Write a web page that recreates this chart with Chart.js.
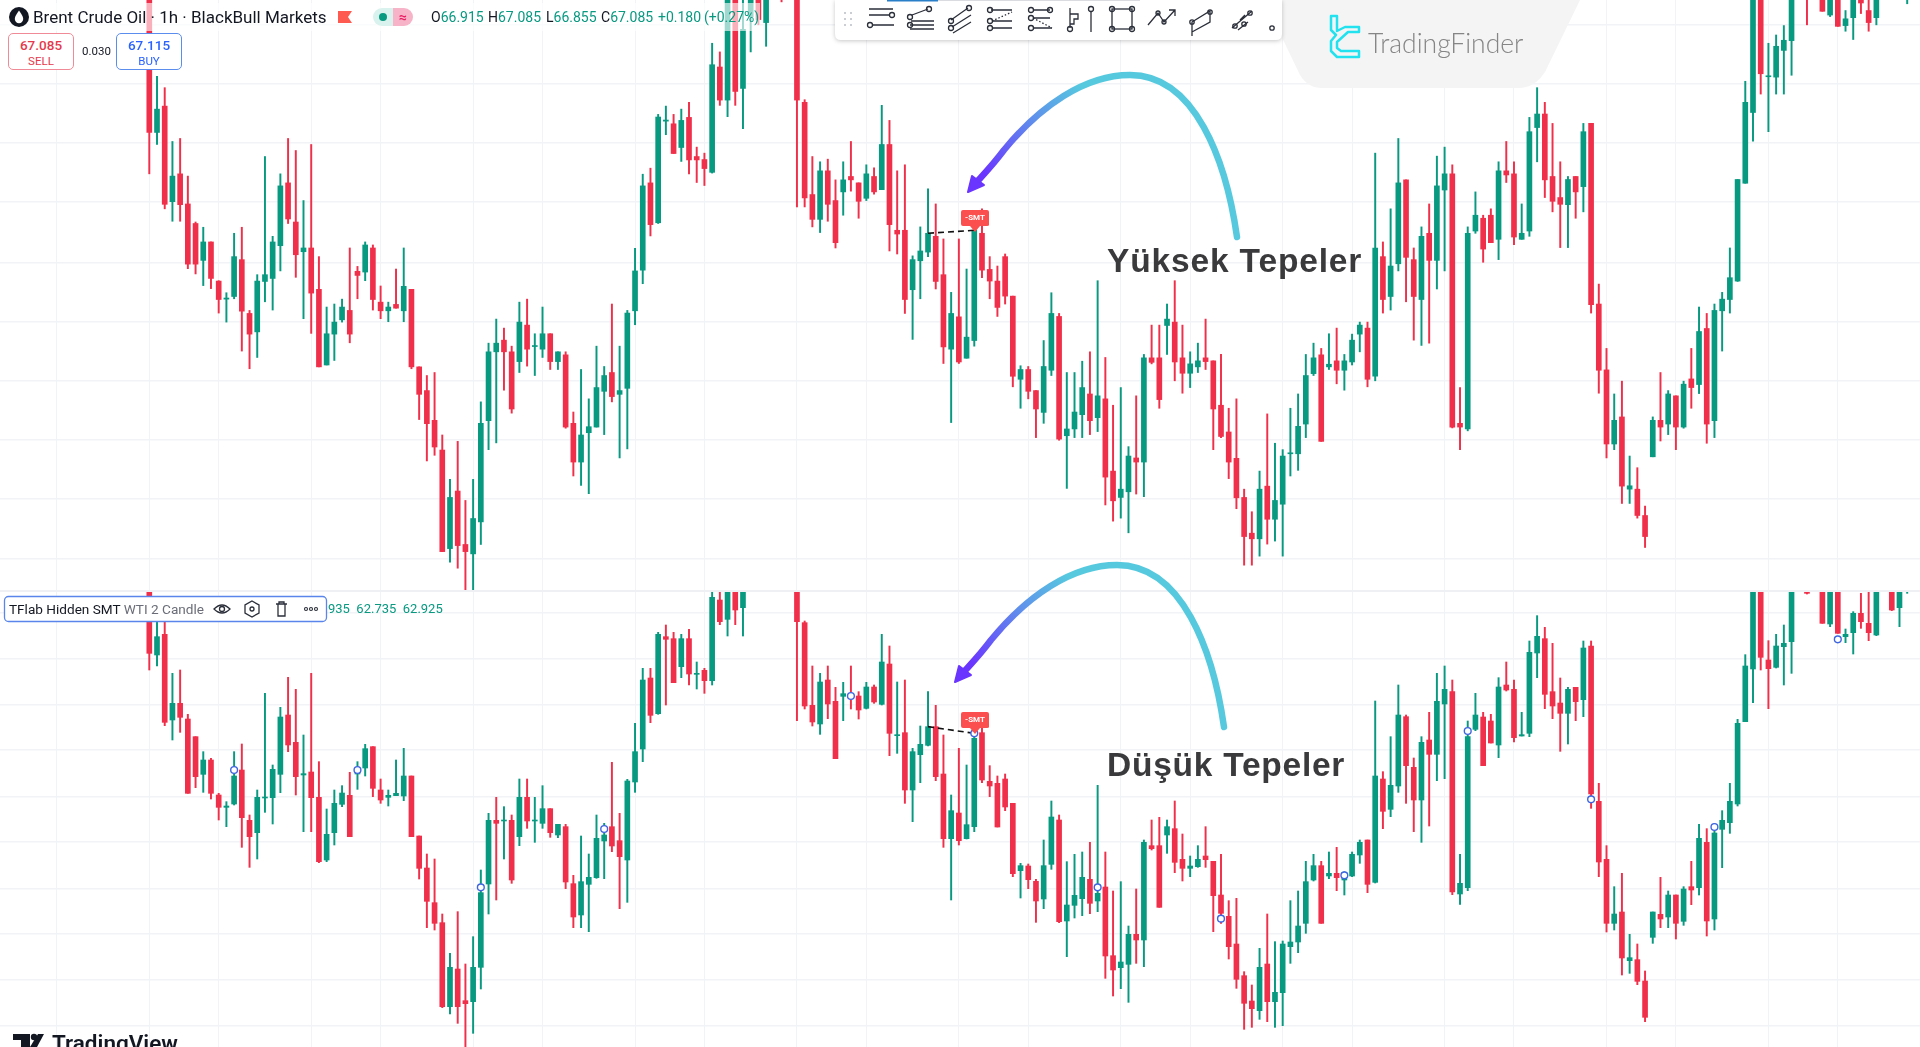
<!DOCTYPE html>
<html><head><meta charset="utf-8">
<script src="https://cdn.jsdelivr.net/npm/chart.js@4"></script>
<style>
html,body{margin:0;padding:0;background:#fff;width:1920px;height:1047px;overflow:hidden}
canvas{position:absolute;left:0}
.t{position:absolute;white-space:nowrap;font-family:Roboto,sans-serif}
.g{color:#089981}
.o{position:absolute;top:9px;font:14px Roboto,sans-serif;color:#089981;white-space:nowrap}
.o b{font-weight:400;color:#131722}
</style></head><body>
<canvas id="topChart" width="1920" height="590" style="top:0"></canvas>
<canvas id="botChart" width="1920" height="457" style="top:590px"></canvas>
<div style="position:absolute;left:0;top:590px;width:1920px;height:2px;background:#eef0f3"></div>

<div style="position:absolute;left:0;top:3px;width:760px;height:28px;background:rgba(255,255,255,.62)"></div>
<svg style="position:absolute;left:9px;top:7px" width="22" height="22"><circle cx="10" cy="10" r="10" fill="#131722"/><path d="M10 3.500C7.500 7 5.800 9.500 5.800 12a4.200 4.200 0 0 0 8.400 0C14.200 9.500 12.500 7 10 3.500Z" fill="#fff"/></svg>
<div class="t" style="left:33px;top:7px;font-size:17px;color:#131722">Brent Crude Oil · 1h · BlackBull Markets</div>
<svg style="position:absolute;left:338px;top:11px" width="16" height="14"><path d="M0 0H14L10 6L14 12H0Z" fill="#ff5a4f"/></svg>
<div style="position:absolute;left:373px;top:8px;width:20px;height:18px;background:#d9f2ed;border-radius:9px 0 0 9px"></div>
<div style="position:absolute;left:393px;top:8px;width:20px;height:18px;background:#f7b4c9;border-radius:0 9px 9px 0;color:#e91e63;font:bold 14px/18px Roboto;text-align:center">≈</div>
<div style="position:absolute;left:379px;top:13px;width:8px;height:8px;border-radius:50%;background:#089981"></div>
<div class="o" style="left:431px"><b>O</b>66.915</div>
<div class="o" style="left:488px"><b>H</b>67.085</div>
<div class="o" style="left:546px"><b>L</b>66.855</div>
<div class="o" style="left:601px"><b>C</b>67.085</div>
<div class="o" style="left:658px">+0.180</div>
<div class="o" style="left:704px">(+0.27%)</div>

<div class="t" style="left:8px;top:33px;width:64px;height:35px;background:#fff;border:1.500px solid #f08a96;border-radius:5px;text-align:center;color:#e5394b"><div style="font:500 13.500px/19px Roboto;margin-top:2px">67.085</div><div style="font:11.500px/13px Roboto">SELL</div></div>
<div class="t" style="left:82px;top:44px;font-size:11.500px;color:#131722">0.030</div>
<div class="t" style="left:116px;top:33px;width:64px;height:35px;background:#fff;border:1.500px solid #5b8def;border-radius:5px;text-align:center;color:#2962ff"><div style="font:500 13.500px/19px Roboto;margin-top:2px">67.115</div><div style="font:11.500px/13px Roboto">BUY</div></div>

<svg style="position:absolute;left:0;top:0" width="1920" height="1047">
<defs>
<linearGradient id="arc" gradientUnits="userSpaceOnUse" x1="1085" y1="90" x2="985" y2="175"><stop offset="0" stop-color="#56c9df"/><stop offset=".45" stop-color="#5f8fec"/><stop offset="1" stop-color="#6a35ff"/></linearGradient>
<g id="arrow"><path d="M1237 237C1226 160 1195 75 1130 75C1085 75 1040 106 1004 150C992 166 982 176 975 184" fill="none" stroke="url(#arc)" stroke-width="6.500" stroke-linecap="round"/><path d="M968 192L972 176L984 185Z" fill="#6a35ff" stroke="#6a35ff" stroke-width="2" stroke-linejoin="round"/></g>
</defs>
<path d="M1264 0L1580 0L1545 72Q1535 88 1518 88L1322 88Q1308 88 1300 75Z" fill="#f4f4f4"/>
<use href="#arrow"/>
<use href="#arrow" transform="translate(-13 490)"/>
<path d="M835 0H1282V34Q1282 40 1276 40H841Q835 40 835 34Z" fill="#fff" style="filter:drop-shadow(0 1px 2px rgba(0,0,0,.22))"/>
<rect x="887" y="0" width="51" height="1.500" fill="#2a7fc9"/><rect x="938" y="0" width="202" height="1" fill="#d9dbe0"/>
<g fill="#b9bcc4"><circle cx="845" cy="13" r="1"/><circle cx="851" cy="13" r="1"/><circle cx="845" cy="19" r="1"/><circle cx="851" cy="19" r="1"/><circle cx="845" cy="25" r="1"/><circle cx="851" cy="25" r="1"/></g>
<g fill="none" stroke="#2a2e39" stroke-width="1.300">
<path d="M869 9H893M869 15H889M873 25H894"/><circle cx="892" cy="15" r="2.500"/><circle cx="870" cy="25" r="2.500"/>
<path d="M912 15L928 9M910 25H934M910 29H934M911 21H934"/><circle cx="910" cy="17" r="2.500"/><circle cx="929" cy="9" r="2.500"/><circle cx="910" cy="25" r="2.500"/>
<path d="M951 20L968 8M952 27L971 15M953 33L971 22"/><circle cx="951" cy="21" r="2.500"/><circle cx="969" cy="8" r="2.500"/><circle cx="951" cy="28" r="2.500"/>
<path d="M991 10H1012M992 21H1012M992 28H1012"/><path d="M992 21L1012 12" stroke-dasharray="1.500 2"/><circle cx="990" cy="10" r="2.500"/><circle cx="990" cy="21" r="2.500"/><circle cx="990" cy="28" r="2.500"/>
<path d="M1033 10H1050M1033 18H1050M1033 28H1052"/><path d="M1033 18L1052 28" stroke-dasharray="1.500 2"/><circle cx="1031" cy="10" r="2.500"/><circle cx="1031" cy="18" r="2.500"/><circle cx="1031" cy="28" r="2.500"/><circle cx="1050" cy="10" r="2.500"/>
<path d="M1070 8V28M1070 14H1078V19H1074V24H1070M1091 11V32"/><circle cx="1070" cy="29" r="2.500"/><circle cx="1091" cy="9" r="2.500"/>
<rect x="1112" y="9" width="20" height="20"/><circle cx="1112" cy="9" r="2.500"/><circle cx="1132" cy="9" r="2.500"/><circle cx="1112" cy="29" r="2.500"/><circle cx="1132" cy="29" r="2.500"/>
<path d="M1148 25L1158 13L1164 22L1175 10M1169 10H1175V16"/><circle cx="1158" cy="13" r="2"/><circle cx="1164" cy="22" r="2"/>
<path d="M1192 22L1210 11V22L1192 32ZM1192 32V36"/><circle cx="1192" cy="22" r="2.200"/><circle cx="1210" cy="12" r="2.200"/>
<path d="M1232 28L1252 11M1238 30L1248 22M1240 20L1245 15"/><circle cx="1235" cy="26" r="2.200"/><circle cx="1250" cy="13" r="2.200"/><circle cx="1244" cy="24" r="2.200"/>
<circle cx="1272" cy="28" r="2.200"/>
</g>
<path d="M1331 16H1337V31L1345 27H1359V32H1348L1337 42V48L1341 51H1359V57H1337L1331 51V41L1336 35L1331 30Z" fill="none" stroke="#22e2ef" stroke-width="2.500" stroke-linejoin="round"/>
<path d="M13 1034H30V1047H21V1040H13Z" fill="#131722"/><circle cx="34" cy="1037" r="3.200" fill="#131722"/><path d="M38 1034H44L37 1047H30Z" fill="#131722"/>
<rect x="4.500" y="596.500" width="322" height="25" rx="4" fill="#fff" stroke="#5a86ec" stroke-width="1.300"/>
<g fill="none" stroke="#2a2e39" stroke-width="1.300">
<path d="M214 609Q222 601 230 609Q222 617 214 609Z"/><circle cx="222" cy="609" r="2.500"/>
<path d="M252 601L259 605V613L252 617L245 613V605Z"/><circle cx="252" cy="609" r="2"/>
<path d="M276 604H287M278 604V616H285V604M279 604V602H284V604"/>
</g>
<g fill="none" stroke="#2a2e39" stroke-width="1.100"><circle cx="306" cy="609" r="1.500"/><circle cx="311" cy="609" r="1.500"/><circle cx="316" cy="609" r="1.500"/></g>
</svg>

<div class="t" style="left:1368px;top:27px;font-family:Lato,sans-serif;font-weight:300;font-size:26.500px;color:#858585">TradingFinder</div>
<div class="t" style="left:1107px;top:242px;font:bold 33.500px 'Liberation Sans';color:#3a3a3c;letter-spacing:.85px">Yüksek Tepeler</div>
<div class="t" style="left:1107px;top:746px;font:bold 33.500px 'Liberation Sans';color:#3a3a3c;letter-spacing:.75px">Düşük Tepeler</div>
<svg style="position:absolute;left:961px;top:209px" width="28" height="26"><path d="M2 1H26Q28 1 28 3V16Q28 17 26 17H19L14 23L9 17H2Q0 17 0 15V3Q0 1 2 1Z" fill="#fb4f4f"/></svg>
<div class="t" style="left:961px;top:213px;width:28px;text-align:center;font:bold 8px/10px Roboto;color:#fff">-SMT</div>
<svg style="position:absolute;left:961px;top:711px" width="28" height="26"><path d="M2 1H26Q28 1 28 3V16Q28 17 26 17H19L14 23L9 17H2Q0 17 0 15V3Q0 1 2 1Z" fill="#fb4f4f"/></svg>
<div class="t" style="left:961px;top:715px;width:28px;text-align:center;font:bold 8px/10px Roboto;color:#fff">-SMT</div>
<div class="t" style="left:9px;top:601px;font-size:13.600px;color:#131722">TFlab Hidden SMT <span style="color:#6a6d78">WTI 2 Candle</span></div>
<div class="t g" style="left:328px;top:601px;font-size:13px">935 &nbsp;62.735 &nbsp;62.925</div>
<div class="t" style="left:52px;top:1030px;font:600 22.500px Roboto;color:#131722">TradingView</div>

<script>
const topHigh=[67.35,66.591,66.501,66.072,66.096,65.796,65.43,65.388,65.271,64.962,
64.866,65.34,65.388,64.725,65.01,65.952,65.316,65.814,66.096,66.0,
65.601,66.048,65.154,64.752,64.776,64.815,65.223,65.076,65.271,65.247,
64.92,64.791,65.055,65.223,64.893,64.275,64.206,64.23,63.732,63.378,
63.681,63.21,63.378,63.996,64.464,64.656,64.584,64.44,64.791,64.815,
64.539,64.752,64.539,64.395,64.395,63.915,64.254,64.02,64.44,64.278,
64.776,64.44,64.725,65.22,65.811,65.859,66.288,66.354,66.288,66.33,
66.384,66.027,65.979,66.855,66.786,67.26,67.29,67.23,67.32,67.32,
67.38,67.47,67.44,67.47,67.38,66.405,65.952,65.91,65.931,65.766,
65.91,66.072,65.742,65.886,65.862,66.36,66.24,65.838,65.886,65.16,
65.391,65.694,65.574,65.295,64.869,65.295,65.055,65.364,65.535,65.154,
65.079,65.175,64.839,64.284,64.278,64.086,64.485,64.866,64.701,64.23,
64.23,64.32,64.395,64.962,64.35,63.969,64.11,63.639,64.044,64.374,
64.608,64.608,64.776,64.962,64.608,64.395,64.464,64.656,64.323,64.374,
63.945,64.02,63.3,63.12,63.444,63.9,63.666,63.615,63.945,64.059,
64.374,64.464,64.422,64.539,64.584,64.374,64.536,64.632,64.632,65.979,
65.271,65.535,66.096,65.766,65.223,65.391,65.574,65.955,66.027,65.886,
64.11,65.391,65.67,65.484,65.535,65.91,66.072,65.91,65.574,66.264,
66.501,66.384,66.216,65.91,65.793,65.793,66.216,66.216,64.935,64.422,
64.059,64.161,63.564,63.471,63.165,63.876,64.23,64.086,64.044,64.161,
64.422,64.752,64.701,64.776,64.869,65.223,65.769,66.552,67.32,67.32,
66.855,66.921,66.996,67.32,67.47,67.38,67.47,67.35,67.35,67.35,
67.116,67.35,67.26,67.2,67.35,67.47,67.47,67.47,67.38,67.47];
const topBodyHigh=[67.26,66.33,66.354,65.796,65.814,65.574,65.418,65.271,65.271,64.959,
64.824,65.154,65.13,64.701,64.959,65.01,65.271,65.718,65.742,65.43,
65.223,65.223,64.893,64.539,64.632,64.752,64.725,65.037,65.247,65.223,
64.791,64.752,64.773,64.917,64.893,64.275,64.086,63.849,63.612,63.234,
63.285,62.859,63.066,63.825,64.395,64.464,64.488,64.395,64.632,64.608,
64.443,64.539,64.539,64.395,64.371,63.825,63.732,63.798,64.11,64.206,
64.23,64.086,64.704,65.04,65.718,65.742,66.267,66.243,66.213,66.24,
66.264,65.952,65.928,66.684,66.666,67.23,67.23,66.966,67.26,67.26,
67.29,67.44,67.41,67.44,67.32,66.384,65.649,65.838,65.838,65.601,
65.766,65.793,65.742,65.814,65.793,66.048,66.048,65.364,65.364,65.13,
65.199,65.34,65.316,65.01,64.701,64.674,64.512,65.364,65.34,65.052,
64.959,65.154,64.839,64.254,64.254,64.086,64.278,64.701,64.677,63.78,
63.915,64.11,64.059,64.044,64.02,63.444,63.3,63.564,63.549,64.347,
64.347,64.347,64.656,64.632,64.347,64.299,64.323,64.347,64.323,63.969,
63.756,63.546,63.234,62.949,63.3,63.324,63.21,63.564,63.588,63.801,
64.206,64.347,64.371,64.296,64.323,64.323,64.488,64.608,64.584,65.223,
65.154,65.079,65.742,65.766,65.13,65.316,65.34,65.718,65.814,65.814,
63.825,65.34,65.484,65.46,65.484,65.838,65.838,65.814,65.34,66.15,
66.291,66.291,65.793,65.625,65.769,65.793,66.15,66.216,64.776,64.251,
63.849,63.876,63.327,63.3,63.09,63.849,63.849,64.059,64.044,64.137,
64.179,64.557,64.581,64.725,64.815,64.986,65.769,66.384,67.26,67.26,
66.594,66.831,66.879,67.26,67.44,67.35,67.44,67.26,67.26,67.26,
67.05,67.26,67.2,67.116,67.26,67.44,67.44,67.44,67.35,67.44];
const topBodyLow=[66.144,66.144,65.571,65.592,65.568,65.094,65.094,65.124,64.98,64.812,
64.815,64.836,64.719,64.536,64.554,64.956,64.98,65.241,65.454,65.169,
65.193,64.863,64.275,64.29,64.536,64.65,64.536,65.004,65.031,64.812,
64.722,64.722,64.743,64.722,64.275,64.056,63.822,63.636,62.802,62.826,
62.85,62.802,62.784,63.039,63.846,64.395,64.395,63.939,64.317,64.416,
64.437,64.416,64.317,64.317,63.795,63.516,63.516,63.75,63.795,64.08,
64.038,64.056,64.104,64.722,65.046,65.409,65.424,66.234,65.976,66.024,
65.925,65.925,65.856,65.826,66.402,66.402,66.471,66.495,67.065,67.044,
67.02,67.35,67.29,67.32,66.402,65.622,65.451,65.451,65.571,65.265,
65.67,65.766,65.595,65.619,65.67,65.688,65.409,65.334,64.812,64.89,
65.121,65.19,64.956,64.434,64.416,64.314,64.344,64.485,65.046,64.959,
64.749,64.839,64.2,64.176,64.08,63.939,63.912,64.248,63.699,63.726,
63.78,63.894,63.846,63.87,63.396,63.207,63.234,63.279,63.516,63.516,
64.311,64.014,64.605,64.314,64.224,64.224,64.275,64.317,63.939,63.72,
63.516,63.231,62.922,62.904,62.904,63.06,63.06,63.18,63.582,63.582,
63.819,64.221,63.681,64.275,64.248,64.248,64.314,64.536,64.176,64.2,
64.812,64.836,65.097,65.148,64.836,64.812,65.124,65.124,65.685,63.795,
63.795,63.78,65.358,65.214,65.265,65.292,65.805,65.31,65.292,65.358,
66.183,65.766,65.595,65.571,65.568,65.67,65.712,64.77,64.248,63.66,
63.66,63.324,63.3,63.09,62.922,63.558,63.795,63.819,63.795,63.795,
64.11,64.134,63.819,63.846,64.722,64.812,64.959,65.739,66.303,66.612,
66.588,66.585,66.798,66.876,67.32,67.26,67.32,67.11,67.08,66.99,
66.996,67.059,67.176,67.02,67.059,67.32,67.32,67.32,67.26,67.32];
const topLow=[65.814,66.048,65.535,65.436,65.436,65.058,65.016,64.923,64.899,64.704,
64.632,64.818,64.401,64.26,64.35,64.794,64.728,65.04,65.418,64.989,
64.659,64.542,64.275,64.29,64.326,64.632,64.467,64.818,64.962,64.728,
64.659,64.635,64.743,64.635,64.26,63.855,63.525,63.57,62.802,62.718,
62.67,62.475,62.475,62.859,63.615,63.669,64.089,63.906,64.23,64.281,
64.206,64.35,64.254,64.254,63.786,63.405,63.33,63.264,63.795,63.735,
63.996,63.549,63.621,64.611,64.938,65.319,65.418,66.126,65.976,65.913,
65.814,65.745,65.721,65.82,66.36,66.27,66.36,66.174,66.786,67.002,
66.831,67.29,67.185,67.26,65.55,65.55,65.391,65.346,65.436,65.223,
65.484,65.676,65.46,65.601,65.652,65.688,65.199,65.175,64.701,64.494,
64.818,65.154,64.896,64.302,63.831,64.302,64.344,64.44,64.986,64.818,
64.677,64.776,64.116,63.945,64.02,63.711,63.825,64.206,63.69,63.306,
63.711,63.711,63.735,63.759,63.174,63.045,63.069,62.952,63.261,63.24,
64.299,63.945,64.374,64.164,64.065,64.11,64.23,64.254,63.615,63.711,
63.384,63.144,62.694,62.694,62.766,62.862,62.886,62.766,63.405,63.45,
63.711,64.206,63.681,64.254,64.14,64.089,64.29,64.395,64.116,64.164,
64.704,64.728,65.04,64.794,64.488,64.446,64.464,64.896,65.04,63.789,
63.615,63.765,65.34,65.109,65.265,65.13,65.745,65.25,65.292,65.316,
65.91,65.625,65.511,65.226,65.226,65.46,65.511,64.704,64.065,63.549,
63.615,63.186,63.186,63.069,62.835,63.558,63.684,63.735,63.615,63.786,
63.945,64.062,63.666,63.711,64.401,64.704,64.956,65.739,66.075,66.45,
66.15,66.45,66.45,66.6,67.26,67.002,67.26,67.11,67.068,66.99,
66.951,66.885,67.092,66.951,67.002,67.26,67.26,67.26,67.17,67.26];
const topRising=[0,1,0,1,0,0,0,1,0,0,1,1,0,0,1,1,1,1,0,0,1,0,0,1,1,1,0,0,1,0,0,1,0,1,0,0,0,0,0,1,
0,0,1,1,1,1,0,0,1,0,1,1,0,1,0,0,1,1,1,1,0,1,1,1,1,0,1,1,0,1,0,0,0,1,0,1,0,1,1,0,
1,1,0,0,0,0,0,1,0,0,1,0,0,1,0,1,0,0,0,1,1,1,0,0,1,0,1,1,0,0,0,0,0,1,0,0,1,1,0,1,
1,1,0,1,0,0,1,1,0,1,0,0,1,0,0,1,1,0,0,0,0,0,0,0,1,0,1,1,1,1,1,1,0,1,0,1,1,1,0,1,
0,1,1,0,0,1,0,1,1,0,0,1,1,0,0,1,0,0,1,1,1,0,0,0,1,0,1,0,0,0,1,0,1,0,0,1,0,1,0,1,
0,1,0,1,1,1,1,1,1,0,1,1,1,1,1,0,1,0,1,0,1,1,0,0,1,0,0,1,1,1];

const botHigh=[63.22,62.92,62.92,62.6,62.62,62.354,62.22,62.13,62.09,61.88,
61.83,62.13,62.176,61.75,61.9,62.48,62.05,62.396,62.576,62.504,
62.23,62.6,62.07,61.786,61.9,61.926,62.006,62.07,62.174,62.16,
61.966,61.9,62.08,62.15,61.984,61.624,61.516,61.486,61.156,60.92,
61.17,60.856,61.02,61.42,61.76,61.856,61.8,61.75,61.966,61.966,
61.856,61.926,61.788,61.694,61.694,61.388,61.624,61.516,61.75,61.7,
62.066,61.76,61.964,62.3,62.63,62.63,62.846,62.89,62.846,62.834,
62.864,62.668,62.63,63.09,63.09,63.16,63.16,63.16,63.26,63.26,
63.26,63.26,63.26,63.26,63.22,62.914,62.644,62.6,62.644,62.516,
62.546,62.644,62.49,62.546,62.53,62.834,62.764,62.548,62.56,62.15,
62.284,62.49,62.408,62.23,61.87,62.15,62.05,62.26,62.28,62.046,
61.984,61.996,61.82,61.46,61.456,61.364,61.6,61.834,61.75,61.47,
61.514,61.528,61.586,61.928,61.528,61.294,61.35,61.084,61.306,61.6,
61.72,61.736,61.72,61.834,61.636,61.504,61.566,61.68,61.472,61.514,
61.236,61.25,60.81,60.73,60.95,61.156,60.99,60.994,61.236,61.294,
61.472,61.514,61.472,61.528,61.556,61.41,61.528,61.6,61.6,62.434,
62.01,62.22,62.53,62.35,62.092,62.22,62.366,62.6,62.644,62.56,
61.514,62.314,62.48,62.366,62.354,62.574,62.668,62.56,62.366,62.794,
62.946,62.876,62.78,62.572,62.516,62.516,62.794,62.794,61.94,61.566,
61.32,61.4,61.034,60.976,60.814,61.168,61.376,61.294,61.27,61.32,
61.472,61.694,61.668,61.7,61.776,61.94,62.324,62.712,63.16,63.16,
62.796,62.834,62.89,63.16,63.26,63.14,63.26,63.16,63.16,63.16,
62.866,62.97,63.08,63.09,63.16,63.26,63.16,63.16,63.16,63.26];
const botBodyHigh=[63.16,62.82,62.834,62.42,62.42,62.326,62.22,62.08,62.08,61.87,
61.804,61.984,62.02,61.718,61.856,61.858,62.024,62.338,62.35,62.186,
61.998,62.008,61.856,61.634,61.82,61.882,61.868,62.026,62.148,62.16,
61.9,61.868,61.88,61.984,61.984,61.624,61.432,61.224,61.104,60.836,
60.826,60.636,60.836,61.284,61.718,61.718,61.72,61.718,61.856,61.856,
61.72,61.788,61.788,61.694,61.68,61.338,61.35,61.376,61.61,61.63,
61.68,61.596,61.954,62.13,62.56,62.572,62.834,62.82,62.808,62.808,
62.808,62.6,62.618,63.056,63.04,63.12,63.12,63.12,63.24,63.24,
63.24,63.24,63.24,63.24,63.14,62.904,62.408,62.548,62.56,62.432,
62.478,62.476,62.464,62.518,62.518,62.668,62.656,62.232,62.244,62.13,
62.174,62.28,62.28,61.996,61.776,61.762,61.692,62.21,62.244,61.952,
61.94,61.966,61.82,61.446,61.444,61.352,61.446,61.738,61.72,61.21,
61.268,61.376,61.364,61.28,61.318,60.906,60.868,61.034,61.034,61.586,
61.566,61.566,61.68,61.668,61.484,61.444,61.484,61.504,61.472,61.27,
61.142,60.976,60.786,60.634,60.836,60.856,60.686,60.976,60.988,61.084,
61.35,61.446,61.446,61.4,61.4,61.404,61.514,61.586,61.6,61.984,
61.966,61.928,62.35,62.34,62.036,62.186,62.2,62.432,62.504,62.49,
61.34,62.22,62.35,62.338,62.314,62.518,62.53,62.504,62.232,62.726,
62.822,62.808,62.49,62.422,62.504,62.516,62.752,62.764,61.832,61.484,
61.156,61.168,60.894,60.882,60.754,61.168,61.154,61.27,61.27,61.306,
61.32,61.61,61.586,61.642,61.718,61.832,62.3,62.644,63.12,63.12,
62.68,62.764,62.78,63.12,63.24,63.12,63.24,63.12,63.12,63.12,
62.834,62.96,62.96,62.9,63.12,63.24,63.12,63.12,63.14,63.24];
const botBodyLow=[62.72,62.71,62.306,62.32,62.336,61.88,61.98,61.994,61.88,61.796,
61.796,61.816,61.734,61.62,61.644,61.852,61.854,61.994,62.17,61.98,
61.99,61.854,61.47,61.48,61.644,61.814,61.62,61.996,62.032,61.91,
61.84,61.856,61.866,61.864,61.62,61.43,61.232,61.1,60.6,60.6,
60.6,60.618,60.63,60.836,61.336,61.7,61.714,61.36,61.62,61.714,
61.714,61.7,61.644,61.63,61.348,61.138,61.15,61.334,61.374,61.594,
61.564,61.5,61.48,61.948,62.146,62.348,62.358,62.804,62.544,62.64,
62.596,62.594,62.556,62.556,62.91,62.924,62.98,62.994,63.18,63.18,
63.18,63.18,63.18,63.18,62.91,62.404,62.308,62.296,62.416,62.088,
62.462,62.45,62.38,62.39,62.428,62.414,62.24,62.226,61.9,61.9,
62.112,62.168,61.98,61.608,61.608,61.596,61.608,61.68,61.96,61.924,
61.678,61.798,61.398,61.416,61.362,61.234,61.246,61.454,61.11,61.114,
61.208,61.248,61.22,61.234,60.904,60.82,60.834,60.854,61.0,61.0,
61.548,61.196,61.63,61.466,61.43,61.43,61.44,61.482,61.266,61.16,
60.96,60.764,60.62,60.588,60.576,60.63,60.63,60.684,60.96,60.988,
61.1,61.36,61.1,61.384,61.374,61.36,61.384,61.51,61.334,61.346,
61.772,61.784,61.924,62.046,61.84,61.84,62.114,62.114,62.416,61.288,
61.276,61.314,62.264,62.046,62.182,62.17,62.5,62.214,62.224,62.24,
62.722,62.474,62.404,62.36,62.36,62.43,62.442,61.876,61.468,61.1,
61.1,60.892,60.876,60.752,60.536,61.016,61.126,61.138,61.1,61.112,
61.3,61.314,61.114,61.126,61.664,61.704,61.816,62.31,62.626,62.696,
62.628,62.636,62.76,62.79,63.18,63.08,63.18,62.9,62.896,62.84,
62.82,62.844,62.91,62.844,62.83,63.18,62.98,62.994,63.11,63.18];
const botLow=[62.62,62.644,62.286,62.2,62.246,61.88,61.914,61.886,61.846,61.72,
61.68,61.81,61.556,61.436,61.486,61.766,61.696,61.884,62.13,61.87,
61.65,61.65,61.464,61.47,61.57,61.8,61.62,61.904,61.984,61.86,
61.82,61.804,61.866,61.836,61.62,61.366,61.074,61.06,60.594,60.556,
60.5,60.32,60.44,60.706,61.156,61.24,61.486,61.34,61.566,61.67,
61.586,61.67,61.616,61.614,61.308,61.074,61.074,61.05,61.37,61.368,
61.53,61.188,61.226,61.886,62.07,62.304,62.354,62.41,62.544,62.574,
62.53,62.506,62.48,62.53,62.892,62.824,62.892,62.824,63.14,63.14,
63.14,63.14,63.14,63.14,62.316,62.386,62.284,62.234,62.328,62.088,
62.316,62.386,62.326,62.386,62.42,62.41,62.106,62.12,61.82,61.71,
61.944,62.164,61.956,61.556,61.24,61.57,61.606,61.65,61.944,61.86,
61.678,61.776,61.38,61.252,61.308,61.106,61.188,61.424,61.104,60.9,
61.132,61.146,61.158,61.17,60.77,60.664,60.708,60.626,60.86,60.84,
61.54,61.196,61.52,61.404,61.354,61.38,61.436,61.436,61.05,61.1,
60.886,60.71,60.464,60.476,60.524,60.51,60.476,60.486,60.86,60.924,
61.04,61.354,61.1,61.368,61.296,61.27,61.38,61.46,61.284,61.342,
61.668,61.74,61.886,61.82,61.65,61.586,61.684,61.956,61.968,61.272,
61.214,61.296,62.256,62.046,62.182,62.094,62.494,62.188,62.224,62.22,
62.574,62.388,62.328,62.132,62.176,62.316,62.34,61.79,61.38,61.048,
61.06,60.79,60.8,60.732,60.51,60.98,61.074,61.074,61.006,61.088,
61.212,61.27,61.024,61.06,61.434,61.64,61.804,62.31,62.424,62.62,
62.388,62.632,62.53,62.6,63.14,63.076,63.14,62.9,62.88,62.84,
62.784,62.716,62.87,62.796,62.826,63.14,62.976,62.88,63.08,63.14];
const botRising=[0,1,0,1,0,0,0,1,0,0,1,1,0,0,1,1,1,1,0,0,1,0,0,1,1,1,0,1,1,0,0,1,1,1,0,0,0,0,0,1,
0,0,1,1,1,0,1,0,1,0,1,1,0,1,0,0,1,1,1,1,0,0,1,1,1,0,1,0,0,1,0,1,0,1,0,1,0,1,1,0,
1,1,0,0,0,0,0,1,0,0,1,0,0,1,0,1,0,1,0,1,1,1,0,0,1,0,1,1,0,0,0,0,0,1,0,0,1,1,0,1,
1,1,0,1,0,0,1,1,0,1,0,0,1,0,0,1,1,0,0,0,0,0,0,0,1,0,1,1,1,1,1,1,0,1,0,1,1,1,0,1,
0,1,1,0,0,1,0,1,1,0,1,1,1,0,0,1,0,0,1,1,1,0,0,0,1,0,1,0,0,0,1,0,1,0,0,1,0,1,0,1,
0,1,0,1,1,1,1,1,1,0,0,1,1,1,1,0,1,0,1,0,1,1,0,0,1,0,0,1,1,1];

const topGridPrices=[67.005,66.534,66.06,65.589,65.109,64.635,64.164,63.696,63.225,62.745];
const botGridPrices=[62.964,62.686,62.414,62.14,61.86,61.59,61.31,61.04,60.76,60.488];
const gridBars=[-12,0,9,21,30,42,51,63,72,84,93,105,114,126,135,147,156,168,177,189,198,210,219];
const topSmtBars=[101,107], topSmtPrices=[65.34,65.364];
const botSmtBars=[101,107], botSmtPrices=[62.28,62.24];
const markerBars=[11,27,43,59,91,107,123,139,155,171,187,203,219];
const markerPrices=[62.02,62.02,61.316,61.666,62.464,62.24,61.316,61.128,61.388,62.254,61.844,61.678,62.804];

const UP='#089981', DOWN='#f0304a', GRID='#f2f3f6';
function candleChart(id,high,bHigh,bLow,low,rising,yMin,yMax,gridPrices,smtBars,smtPrices,mBars,mPrices){
  const colors=rising.map(r=>r?UP:DOWN);
  const datasets=[
    {type:'bar',order:3,grouped:false,barThickness:1.3,borderWidth:0,backgroundColor:colors,
     data:high.map((h,i)=>({x:i,y:[low[i],h]}))},
    {type:'bar',order:2,grouped:false,barThickness:5,minBarLength:1,borderWidth:0,backgroundColor:colors,
     data:bHigh.map((h,i)=>({x:i,y:[bLow[i],h]}))},
    {type:'line',order:1,borderColor:'#111',borderWidth:1.6,borderDash:[6,4],pointRadius:0,fill:false,tension:0,
     data:smtBars.map((b,i)=>({x:b,y:smtPrices[i]}))}
  ];
  if(mBars) datasets.push({type:'scatter',order:0,showLine:false,pointRadius:3.4,pointBorderWidth:1.4,
     pointBorderColor:'#3f66e0',pointBackgroundColor:'#fff',
     data:mBars.map((b,i)=>({x:b,y:mPrices[i]}))});
  return new Chart(document.getElementById(id),{
    type:'bar',data:{datasets},
    options:{responsive:false,animation:false,devicePixelRatio:1,layout:{padding:0,autoPadding:false},
      plugins:{legend:{display:false},tooltip:{enabled:false}},
      scales:{
        x:{type:'linear',min:-19.364,max:229.66,offset:false,
           grid:{color:GRID,offset:false,drawTicks:false,lineWidth:1},border:{display:false},
           ticks:{display:false,autoSkip:false},
           afterBuildTicks:a=>{a.ticks=gridBars.map(v=>({value:v}))}},
        y:{type:'linear',min:yMin,max:yMax,
           grid:{color:GRID,drawTicks:false,lineWidth:1.4},border:{display:false},
           ticks:{display:false},
           afterBuildTicks:a=>{a.ticks=gridPrices.map(v=>({value:v}))}}
      }}});
}
candleChart('topChart',topHigh,topBodyHigh,topBodyLow,topLow,topRising,62.496,67.2,topGridPrices,topSmtBars,topSmtPrices);
candleChart('botChart',botHigh,botBodyHigh,botBodyLow,botLow,botRising,60.358,63.1,botGridPrices,botSmtBars,botSmtPrices,markerBars,markerPrices);
</script>
</body></html>
